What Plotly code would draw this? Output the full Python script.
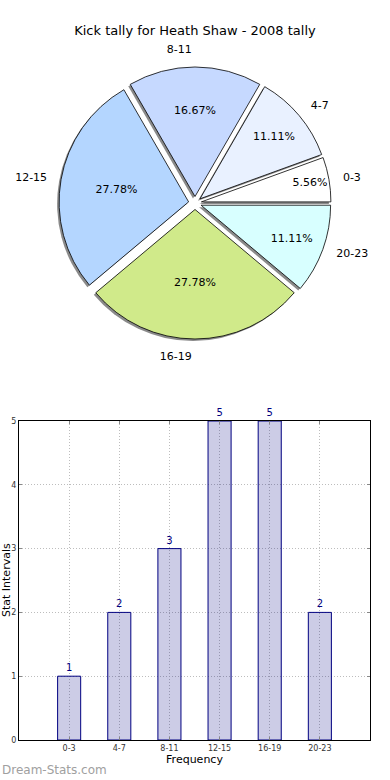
import plotly.graph_objects as go

# ---- data ----
categories = ["0-3", "4-7", "8-11", "12-15", "16-19", "20-23"]
counts = [1, 2, 3, 5, 5, 2]
slice_colors = ["#ffffff", "#e9f1ff", "#c6d9ff", "#b4d6ff", "#d0ea8a", "#d8ffff"]
y_tick_values = [0, 1, 2, 3, 4, 5]
title_text = "Kick tally for Heath Shaw - 2008 tally"

W, H = 390, 780
FONT = "DejaVu Sans"

def px_x(v):
    return v / W

def px_y(v):
    return 1 - v / H

# pie geometry (pixels)
cx, cy, half = 195, 203, 136
pull = 0.05
def dom(cxp, cyp, hf):
    return dict(x=[px_x(cxp - hf), px_x(cxp + hf)], y=[px_y(cyp + hf), px_y(cyp - hf)])

pie_dom = dom(cx, cy, half)
shadow_dom = dom(cx - 2, cy + 2, half)
label_dom = dom(cx, cy, half * 1.08)

# plotly counter-clockwise pies end the first slice at `rotation`; start it at 3 o'clock instead
start_rot = 90 - 360 * counts[0] / sum(counts)

fig = go.Figure()

common = dict(values=counts, labels=categories, sort=False, direction="counterclockwise",
              rotation=start_rot, pull=pull, showlegend=False, hoverinfo="skip")

# shadow
fig.add_trace(go.Pie(**common, domain=shadow_dom,
                     marker=dict(colors=["rgba(60,60,60,0.6)"] * len(counts), line=dict(width=0)),
                     textinfo="none"))
# main pie with percentages
fig.add_trace(go.Pie(**common, domain=pie_dom,
                     marker=dict(colors=slice_colors, line=dict(color="#000000", width=0.8)),
                     texttemplate="%{percent:.2%}", textposition="inside",
                     insidetextorientation="horizontal",
                     textfont=dict(family=FONT, size=11, color="#000000")))
# outer labels
fig.add_trace(go.Pie(**common, domain=label_dom,
                     marker=dict(colors=["rgba(0,0,0,0)"] * len(counts), line=dict(width=0)),
                     texttemplate="%{label}", textposition="outside",
                     outsidetextfont=dict(family=FONT, size=11, color="#000000")))

# bar chart
fig.add_trace(go.Bar(x=categories, y=counts, width=0.46,
                     marker=dict(color="rgba(0,0,128,0.2)", line=dict(color="#000080", width=1)),
                     text=counts, textposition="outside", cliponaxis=False,
                     textfont=dict(family=FONT, size=10, color="#000080"),
                     showlegend=False, hoverinfo="skip"))

grid = dict(showgrid=True, gridcolor="#bdbdbd", griddash="1px,2px", gridwidth=1)

fig.update_layout(
    width=W, height=H, autosize=False,
    showlegend=False,
    margin=dict(l=0, r=0, t=0, b=0, autoexpand=False),
    paper_bgcolor="white", plot_bgcolor="white",
    font=dict(family=FONT, color="#000000"),
    title=dict(text=title_text, x=0.5, xanchor="center", y=px_y(30), yanchor="middle",
               yref="container", font=dict(family=FONT, size=13, color="#000000")),
    xaxis=dict(domain=[px_x(19), px_x(370)], anchor="y", type="category",
               range=[-1, 6], **grid,
               showline=True, mirror="ticks", linecolor="#000000", linewidth=1,
               ticks="inside", ticklen=3, tickcolor="#888888",
               tickfont=dict(size=8, color="#333333"), automargin=False,
               title=dict(text="Frequency", font=dict(size=11), standoff=2)),
    yaxis=dict(domain=[px_y(740), px_y(421)], anchor="x", range=[0, 5],
               tickvals=y_tick_values, **grid,
               zeroline=False, showline=True, mirror="ticks", linecolor="#000000", linewidth=1,
               ticks="inside", ticklen=3, tickcolor="#888888",
               tickfont=dict(size=8, color="#333333"), automargin=False),
    annotations=[
        dict(text="Stat Intervals", textangle=-90, x=px_x(6), y=px_y(580), xref="paper", yref="paper",
             xanchor="center", yanchor="middle", showarrow=False, font=dict(size=11, color="#000000")),
        dict(text="Dream-Stats.com", x=0, y=px_y(770), xref="paper", yref="paper",
             xanchor="left", yanchor="middle", showarrow=False, font=dict(size=12, color="#a0a0a0")),
    ],
)

# remove the browser's default 8px page margin so the figure sits at the window's corner
fig.write_html("out.html", config={"displayModeBar": False, "responsive": False},
               post_script="document.body.style.margin='0px';document.body.style.overflow='hidden';")
